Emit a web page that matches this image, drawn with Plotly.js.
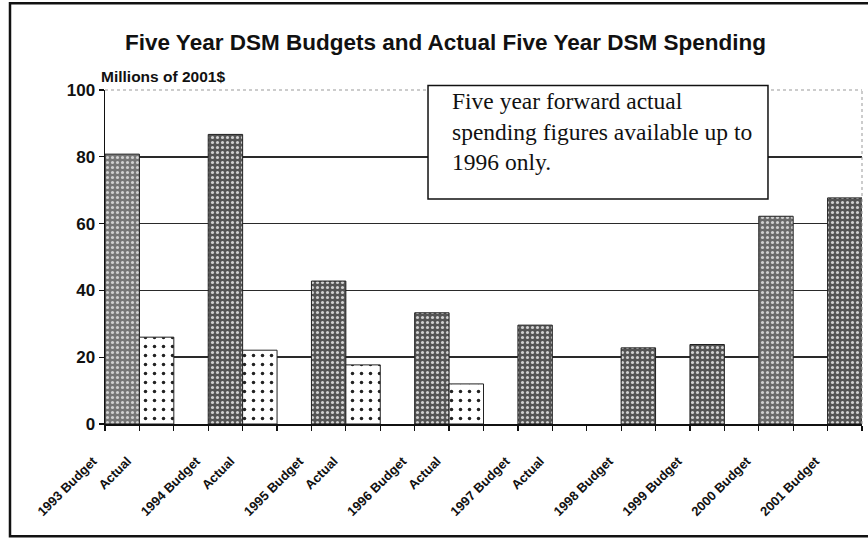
<!DOCTYPE html>
<html>
<head>
<meta charset="utf-8">
<script src="https://cdn.plot.ly/plotly-3.0.1.min.js"></script>
<style>
  html, body { margin: 0; padding: 0; background: #fff; }
  #chart { width: 868px; height: 540px; }
</style>
</head>
<body>
<div id="chart"></div>
<script>
// Category slots as laid out in the original worksheet (blank slots are empty categories)
const categories = ["1993 Budget", "Actual", "", "1994 Budget", "Actual", "", "1995 Budget", "Actual", "",
  "1996 Budget", "Actual", "", "1997 Budget", "Actual", "", "1998 Budget", "", "1999 Budget", "",
  "2000 Budget", "", "2001 Budget"];
// Millions of 2001$
const budget = [80.8, null, null, 86.7, null, null, 42.8, null, null, 33.3, null, null, 29.6, null, null,
  22.8, null, 23.8, null, 62.2, null, 67.7];
const actual = [null, 26.0, null, null, 22.1, null, null, 17.7, null, null, 12.0, null, null, null, null,
  null, null, null, null, null, null, null];
const yTicks = [0, 20, 40, 60, 80, 100];

const titleText = "Five Year DSM Budgets and Actual Five Year DSM Spending";
const yTitleText = "Millions of 2001$";
const noteLines = ["Five year forward actual", "spending figures available up to", "1996 only."];

const xs = categories.map((c, i) => i + 0.5);
const tickvals = categories.map((c, i) => i).concat([categories.length]);
const ticktext = categories.concat([""]);
// scanned shading: a couple of budget bars print lighter
const budgetShade = categories.map((c, i) => (i === 0 ? "#767676" : i === 19 ? "#6a6a6a" : "#545454"));

const budgetTrace = {
  type: "bar", x: xs, y: budget, width: 1, name: "Budget",
  marker: {
    color: "#545454",
    line: { color: "#222", width: 1 },
    pattern: { shape: ".", bgcolor: budgetShade, fgcolor: "#d0d0d0", size: 5, solidity: 0.3 }
  },
  hoverinfo: "y"
};
const actualTrace = {
  type: "bar", x: xs, y: actual, width: 1, name: "Actual",
  marker: {
    color: "#ffffff",
    line: { color: "#222", width: 1 },
    pattern: { shape: ".", bgcolor: "#ffffff", fgcolor: "#222", size: 9, solidity: 0.12 }
  },
  hoverinfo: "y"
};

const layout = {
  width: 868, height: 540,
  margin: { l: 105, r: 6, t: 90, b: 116 },
  paper_bgcolor: "#fff", plot_bgcolor: "#fff",
  showlegend: false,
  barmode: "overlay",
  font: { family: "Liberation Sans, Arial, sans-serif", color: "#111" },
  xaxis: {
    range: [0, categories.length],
    tickmode: "array", tickvals: tickvals, ticktext: ticktext,
    tickangle: -45,
    ticks: "outside", ticklen: 5, tickwidth: 1.2, tickcolor: "#111",
    ticklabelstandoff: 18, ticklabelshift: -12,
    showline: true, linecolor: "#111", linewidth: 1.5,
    showgrid: false, zeroline: false,
    tickfont: { family: "Liberation Sans Narrow, Arial Narrow, Liberation Sans, sans-serif", size: 13, weight: "bold", color: "#111" }
  },
  yaxis: {
    range: [0, 100],
    tickmode: "array", tickvals: yTicks,
    ticks: "outside", ticklen: 5, tickwidth: 1.2, tickcolor: "#111",
    showline: true, linecolor: "#111", linewidth: 1.5,
    showgrid: true, gridcolor: "#2a2a2a", gridwidth: 1.6,
    zeroline: false,
    tickfont: { family: "Liberation Sans, Arial, sans-serif", size: 17, weight: "bold", color: "#111" }
  },
  shapes: [
    // hide top gridline and draw dotted plot-area border (top & right)
    { type: "line", xref: "paper", yref: "paper", x0: 0.002, x1: 1, y0: 1, y1: 1, line: { color: "#fff", width: 3 }, layer: "above" },
    { type: "line", xref: "paper", yref: "paper", x0: 0, x1: 1, y0: 1, y1: 1, line: { color: "#999", width: 1, dash: "dot" }, layer: "above" },
    { type: "line", xref: "paper", yref: "paper", x0: 1, x1: 1, y0: 0, y1: 1, line: { color: "#999", width: 1, dash: "dot" }, layer: "above" },
    // note box
    { type: "rect", xref: "paper", yref: "paper", x0: 0.4267, x1: 0.8758, y0: 0.674, y1: 1.0135,
      fillcolor: "#fff", line: { color: "#111", width: 1.5 }, layer: "above" },
    // outer chart frame
    { type: "rect", xref: "paper", yref: "paper", x0: -0.1255, x1: 1.02, y0: -0.3363, y1: 1.2601,
      fillcolor: "rgba(0,0,0,0)", line: { color: "#111", width: 2.5 }, layer: "above" }
  ],
  annotations: [
    { text: titleText, xref: "paper", yref: "paper", x: (445 - 105) / 757, y: (424.5 - 42) / 334.5,
      xanchor: "center", yanchor: "middle", showarrow: false,
      font: { family: "Liberation Sans, Arial, sans-serif", size: 22.5, weight: "bold", color: "#111" } },
    { text: yTitleText, xref: "paper", yref: "paper", x: (99 - 105) / 757, y: (424.5 - 76) / 334.5,
      xanchor: "left", yanchor: "middle", showarrow: false,
      font: { family: "Liberation Sans, Arial, sans-serif", size: 15.5, weight: "bold", color: "#111" } },
    { text: noteLines.join("<br>"), xref: "paper", yref: "paper", x: (450 - 105) / 757, y: (424.5 - 86) / 334.5,
      xanchor: "left", yanchor: "top", align: "left", showarrow: false,
      font: { family: "Liberation Serif, Times New Roman, serif", size: 23.5, color: "#111" } }
  ]
};

Plotly.newPlot("chart", [budgetTrace, actualTrace], layout, { displayModeBar: false, staticPlot: true });
</script>
</body>
</html>
